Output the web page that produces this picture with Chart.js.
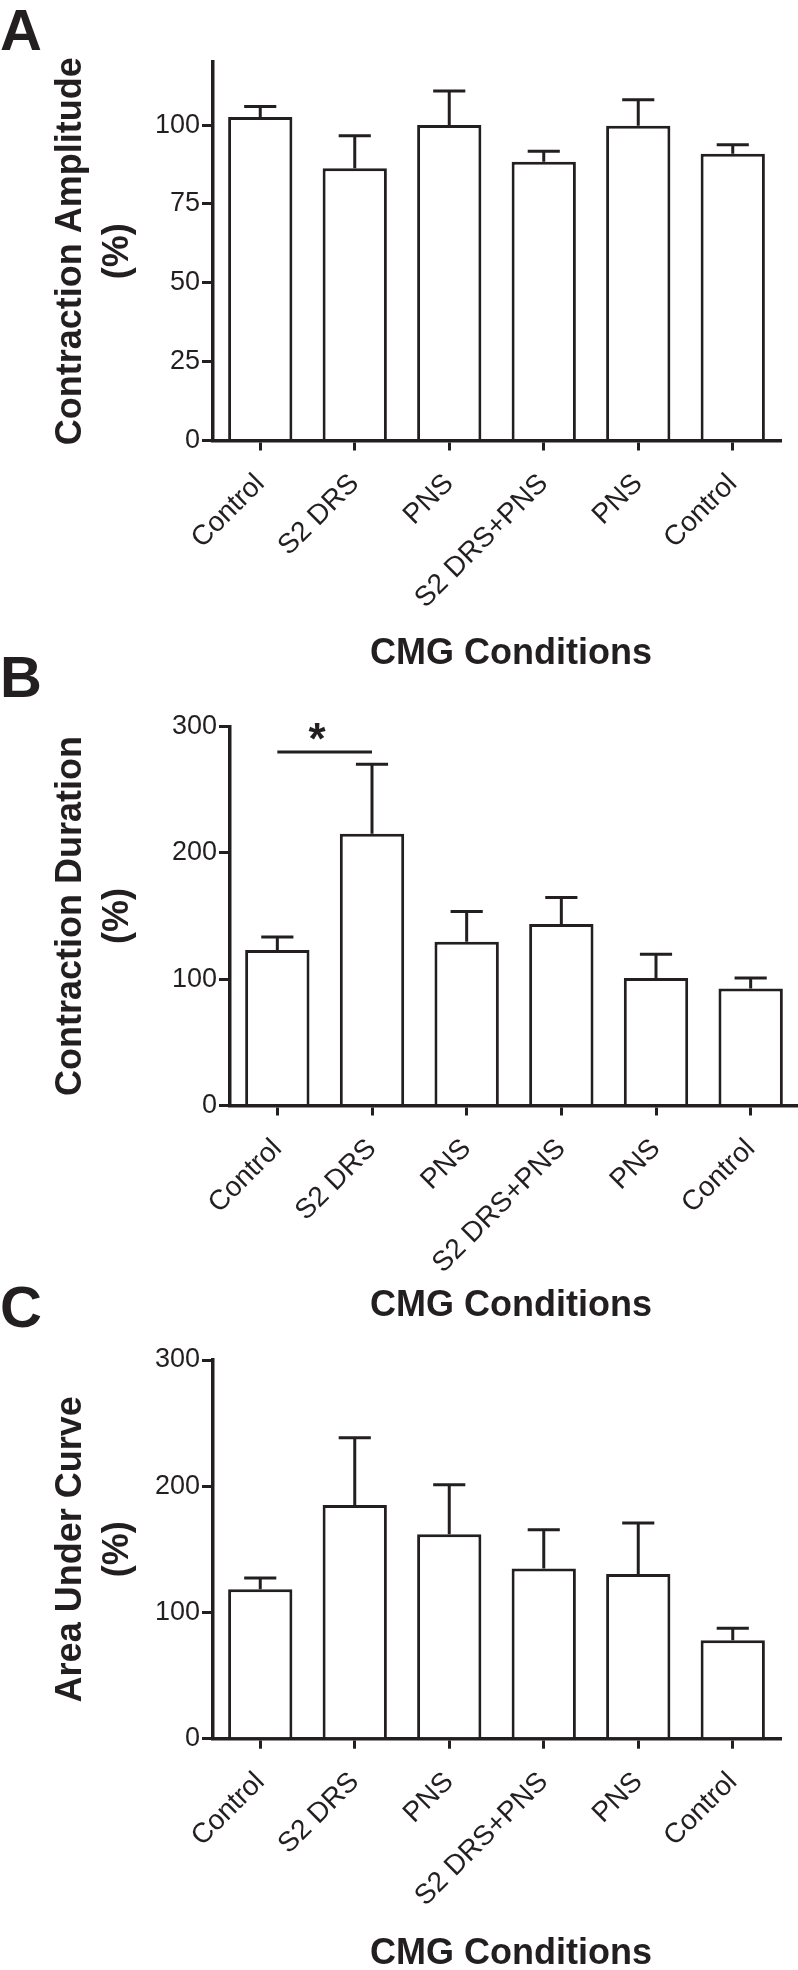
<!DOCTYPE html>
<html>
<head>
<meta charset="utf-8">
<script src="https://cdn.jsdelivr.net/npm/chart.js@4.4.1/dist/chart.umd.min.js"></script>
<style>
  body { margin: 0; background: #fff; }
  #wrap { position: relative; width: 798px; height: 1970px; }
  canvas { position: absolute; left: 0; }
</style>
</head>
<body>
<div id="wrap">
  <canvas id="panelA" width="798" height="680" style="top:0px"></canvas>
  <canvas id="panelB" width="798" height="680" style="top:640px"></canvas>
  <canvas id="panelC" width="798" height="710" style="top:1260px"></canvas>
</div>
<script>
const INK = '#231f20'
const FONT = '"Liberation Sans", Arial, Helvetica, sans-serif'

const CONDITIONS = ['Control', 'S2 DRS', 'PNS', 'S2 DRS+PNS', 'PNS', 'Control']

// panel A - contraction amplitude (%), mean and SEM
const AMPLITUDE_MEAN = [102.6, 86.3, 100.0, 88.4, 99.8, 90.9]
const AMPLITUDE_SEM = [3.3, 10.3, 10.8, 3.3, 8.2, 2.9]
const AMPLITUDE_TICKS = [0, 25, 50, 75, 100]

// panel B - contraction duration (%)
const DURATION_MEAN = [123.1, 215.2, 129.7, 143.8, 100.9, 92.7]
const DURATION_SEM = [10.3, 55.1, 23.9, 20.9, 18.8, 8.2]
const DURATION_TICKS = [0, 100, 200, 300]

// panel C - area under curve (%)
const AUC_MEAN = [118.3, 185.1, 161.9, 134.9, 130.4, 77.9]
const AUC_SEM = [9.0, 53.3, 39.3, 30.7, 40.4, 9.5]
const AUC_TICKS = [0, 100, 200, 300]

Chart.defaults.font.family = FONT
Chart.defaults.color = INK

// SEM whiskers, only the upper half like the original
const errorBars = {
  id: 'errorBars',
  afterDatasetsDraw(chart) {
    const ctx = chart.ctx
    const y = chart.scales.y
    const ds = chart.data.datasets[0]
    ctx.save()
    ctx.strokeStyle = INK
    ctx.lineWidth = 3
    chart.getDatasetMeta(0).data.forEach((bar, i) => {
      const top = y.getPixelForValue(ds.data[i] + ds.sem[i])
      const half = bar.width / 4
      ctx.beginPath()
      ctx.moveTo(bar.x, bar.y)
      ctx.lineTo(bar.x, top)
      ctx.moveTo(bar.x - half, top)
      ctx.lineTo(bar.x + half, top)
      ctx.stroke()
    })
    ctx.restore()
  }
}

const sigBracket = {
  id: 'sigBracket',
  afterDatasetsDraw(chart, args, opts) {
    if (!opts || !opts.label) return
    const {ctx, scales: {x, y}} = chart
    const x0 = x.getPixelForValue(opts.from)
    const x1 = x.getPixelForValue(opts.to)
    const yy = y.getPixelForValue(opts.value)
    ctx.save()
    ctx.strokeStyle = INK
    ctx.lineWidth = 3
    ctx.beginPath()
    ctx.moveTo(x0, yy)
    ctx.lineTo(x1, yy)
    ctx.stroke()
    ctx.fillStyle = INK
    ctx.font = 'bold 44px ' + FONT
    ctx.textAlign = 'center'
    ctx.textBaseline = 'middle'
    ctx.fillText(opts.label, x0 + (x1 - x0) * 0.42, yy - 10)
    ctx.restore()
  }
}

const captions = {
  id: 'captions',
  afterDraw(chart, args, opts) {
    const ctx = chart.ctx
    ctx.save()
    ctx.fillStyle = INK
    ctx.font = 'bold 58px ' + FONT
    ctx.textAlign = 'left'
    ctx.textBaseline = 'alphabetic'
    ctx.fillText(opts.letter, 0, opts.letterY)
    ctx.font = 'bold 36px ' + FONT
    ctx.textAlign = 'center'
    ctx.textBaseline = 'middle'
    ctx.fillText(opts.xTitle, opts.xTitleX, opts.xTitleY)
    ctx.restore()
  }
}

function buildChart(id, mean, sem, ticks, yMax, yTitle, frame, sig) {
  return new Chart(document.getElementById(id), {
    type: 'bar',
    data: {
      labels: CONDITIONS,
      datasets: [{
        data: mean,
        sem: sem,
        backgroundColor: '#ffffff',
        borderColor: INK,
        borderWidth: 3,
        borderSkipped: 'start',
        barPercentage: 0.68,
        categoryPercentage: 1
      }]
    },
    options: {
      responsive: false,
      animation: false,
      devicePixelRatio: 1,
      layout: { padding: { top: frame.top, right: frame.right, left: 0, bottom: 0 } },
      plugins: {
        legend: { display: false },
        tooltip: { enabled: false },
        captions: { letter: frame.letter, letterY: frame.letterY, xTitle: 'CMG Conditions', xTitleX: 511, xTitleY: frame.titleY },
        sigBracket: sig || {}
      },
      scales: {
        x: {
          z: 1,
          afterFit: s => { s.height = frame.xHeight; s.paddingLeft = 0; s.paddingRight = 0 },
          grid: { display: true, offset: false, drawOnChartArea: false, drawTicks: true, tickLength: 10, lineWidth: 3, color: INK },
          border: { display: true, color: INK, width: 3.5 },
          ticks: { autoSkip: false, minRotation: 45, maxRotation: 45, color: INK, font: { size: 28 }, padding: 17, labelOffset: 0 }
        },
        y: {
          min: 0,
          max: yMax,
          afterFit: s => { s.width = frame.left; s.paddingTop = 0; s.paddingBottom = 0 },
          afterBuildTicks: s => { s.ticks = ticks.map(v => ({ value: v })) },
          grid: { drawOnChartArea: false, tickLength: 11, lineWidth: 3, color: INK },
          border: { color: INK, width: 3.5 },
          ticks: { color: INK, font: { size: 27 }, padding: 2 },
          title: {
            display: true,
            text: yTitle,
            color: INK,
            font: { size: 36, weight: 'bold', lineHeight: 1.3 },
            padding: { top: 48, bottom: 0 }
          }
        }
      }
    },
    plugins: [errorBars, sigBracket, captions]
  })
}

buildChart('panelA', AMPLITUDE_MEAN, AMPLITUDE_SEM, AMPLITUDE_TICKS, 120,
  ['Contraction Amplitude', '(%)'],
  { top: 62, right: 18, left: 213, xHeight: 239.5, letter: 'A', letterY: 50, titleY: 654 })

buildChart('panelB', DURATION_MEAN, DURATION_SEM, DURATION_TICKS, 300,
  ['Contraction Duration', '(%)'],
  { top: 86.7, right: 0, left: 230, xHeight: 214.5, letter: 'B', letterY: 57, titleY: 666 },
  { from: 0, to: 1, value: 280, label: '*' })

buildChart('panelC', AUC_MEAN, AUC_SEM, AUC_TICKS, 300,
  ['Area Under Curve', '(%)'],
  { top: 100, right: 18, left: 213, xHeight: 231.3, letter: 'C', letterY: 67, titleY: 694 })
</script>
</body>
</html>
